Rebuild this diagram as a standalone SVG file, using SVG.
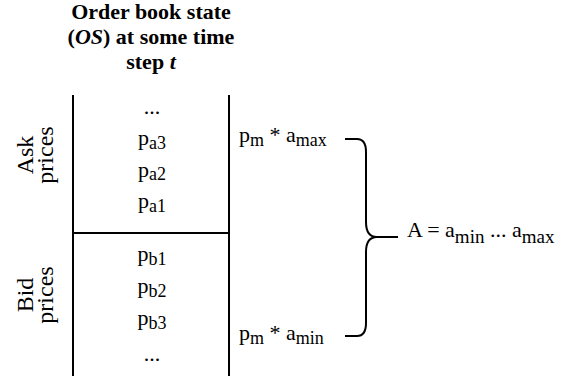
<svg xmlns="http://www.w3.org/2000/svg" width="563" height="376" viewBox="0 0 563 376" font-family="'Liberation Serif', 'Times New Roman', serif">
<style>
text{fill:#000;}
.t{font-size:22px;font-weight:bold;text-anchor:middle;}
.c{font-size:22px;text-anchor:middle;}
.l{font-size:22px;}
.v{font-size:24px;text-anchor:middle;}
.s{font-size:18px;}
.ln{stroke:#000;stroke-width:2;fill:none;}
</style>
<rect width="563" height="376" fill="#fff"/>
<g id="title">
<text class="t" x="151" y="19">Order book state</text>
<text class="t" x="151" y="44">(<tspan font-style="italic">OS</tspan>) at some time</text>
<text class="t" x="151" y="69">step <tspan font-style="italic">t</tspan></text>
</g>
<g id="book">
<line class="ln" x1="73" y1="95" x2="73" y2="376"/>
<line class="ln" x1="229" y1="95" x2="229" y2="376"/>
<line class="ln" x1="73" y1="233" x2="229" y2="233"/>
</g>
<g id="ask">
<text class="v" transform="translate(33,155) rotate(-90)">Ask</text>
<text class="v" transform="translate(53,155) rotate(-90)">prices</text>
<text class="c" x="152" y="114">...</text>
<text class="c" x="152" y="145">p<tspan class="s" dy="3.5">a3</tspan></text>
<text class="c" x="152" y="176.5">p<tspan class="s" dy="3.5">a2</tspan></text>
<text class="c" x="152" y="208">p<tspan class="s" dy="3.5">a1</tspan></text>
</g>
<g id="bid">
<text class="v" transform="translate(33,295) rotate(-90)">Bid</text>
<text class="v" transform="translate(53,295) rotate(-90)">prices</text>
<text class="c" x="152" y="261">p<tspan class="s" dy="3.5">b1</tspan></text>
<text class="c" x="152" y="293">p<tspan class="s" dy="3.5">b2</tspan></text>
<text class="c" x="152" y="325">p<tspan class="s" dy="3.5">b3</tspan></text>
<text class="c" x="152" y="361">...</text>
</g>
<g id="pmax">
<text class="l" x="239" y="142">p<tspan class="s" dy="4">m</tspan><tspan dy="-4"> * a</tspan><tspan class="s" dy="4">max</tspan></text>
</g>
<g id="pmin">
<text class="l" x="239" y="340">p<tspan class="s" dy="4">m</tspan><tspan dy="-4"> * a</tspan><tspan class="s" dy="4">min</tspan></text>
</g>
<g id="connectors">
<path class="ln" d="M345,139 H357 Q366,139 366,152 V222 Q366,237 377,237 Q366,237 366,252 V323 Q366,336 357,336 H345 M377,237 H398"/>
</g>
<g id="A">
<text class="l" x="407" y="237">A = a<tspan font-size="19px" dy="6">min</tspan><tspan dy="-6"> ... a</tspan><tspan font-size="19px" dy="6">max</tspan></text>
</g>
</svg>
